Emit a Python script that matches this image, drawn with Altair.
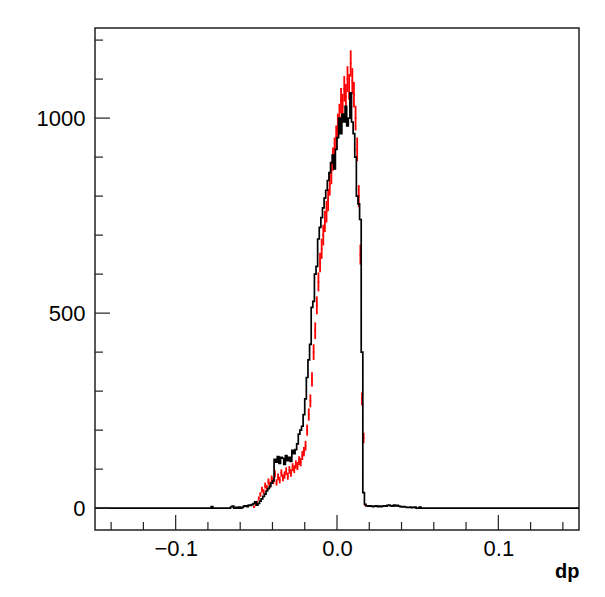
import altair as alt
import pandas as pd
import numpy as np

# ---- data ----
X_MIN, X_MAX = -0.15, 0.15
Y_MIN, Y_MAX = -56, 1231
BIN_W = 0.001

# black histogram: counts for bins starting at -0.080 (step 0.001)
BLACK_START = -0.080
black_counts = [
    0, 0, 4, 0, 0, 0, 0, 0, 0, 0,
    0, 0, 0, 0, 3, 5, 0, 2, 0, 3,
    0, 2, 5, 6, 4, 8, 7, 9, 12, 16,
    8, 12, 18, 24, 30, 36, 44, 50, 56, 64,
    70, 125, 118, 132, 115, 130, 128, 112, 135, 122,
    130, 120, 148, 140, 150, 165, 190, 200, 210, 240,
    280, 335, 380, 420, 515, 530, 600, 620, 690, 720,
    745, 770, 795, 815, 840, 860, 885, 905, 870, 920,
    950, 1000, 960, 1010, 990, 1030, 980, 1000, 1065, 990,
    960, 900, 800, 780, 740, 400, 40, 10, 6, 5,
    6, 5, 4, 5, 6, 4, 5, 4, 5, 6,
    5, 7, 8, 6, 5, 8, 6, 7, 5, 4,
    3, 4, 3, 2, 2, 3, 1, 2, 3, 0,
    0, 3, 0, 0, 0, 0, 0, 0, 0, 0,
]

# red histogram (drawn with error bars): counts for bins starting at -0.052
RED_START = -0.052
red_counts = [
    3, 8, 15, 25, 35, 48, 42, 58, 52, 68,
    60, 75, 70, 88, 66, 80, 72, 90, 78, 85,
    95, 82, 98, 90, 105, 100, 112, 108, 122, 118,
    135, 145, 160, 200, 240, 275, 330, 400, 455, 520,
    580, 630, 665, 700, 735, 760, 790, 830, 860, 895,
    920, 950, 980, 1005, 1045, 1030, 1075, 1055, 1100, 1080,
    1140, 1095, 1060, 1000, 920, 800, 650, 280, 180, 8,
]

y_major = [0, 500, 1000]
y_minor = [100, 200, 300, 400, 600, 700, 800, 900, 1100, 1200]
x_major = [-0.1, 0.0, 0.1]
x_minor = [-0.14, -0.12, -0.08, -0.06, -0.04, -0.02,
           0.02, 0.04, 0.06, 0.08, 0.12, 0.14]

# ---- tables ----
W, H = 484, 502
FONT = "Liberation Sans"

edges = [round(BLACK_START + i * BIN_W, 4) for i in range(len(black_counts))]
black_df = pd.DataFrame({
    "x": [X_MIN] + edges + [round(edges[-1] + BIN_W, 4), X_MAX],
    "y": [0] + black_counts + [0, 0],
})

red_rows = []
for i, c in enumerate(red_counts):
    if c <= 0:
        continue
    x0 = round(RED_START + i * BIN_W, 4)
    e = float(np.sqrt(c))
    red_rows.append({"x0": x0, "x1": x0 + BIN_W, "xc": x0 + BIN_W / 2,
                     "y": c, "ylo": c - e, "yhi": c + e})
red_df = pd.DataFrame(red_rows)

xs = alt.Scale(domain=[X_MIN, X_MAX], nice=False, zero=False)
ys = alt.Scale(domain=[Y_MIN, Y_MAX], nice=False, zero=False)

x_axis = alt.Axis(
    values=x_major, format=".1f", title="dp", ticks=False, domain=False,
    grid=False, labelFontSize=22, labelPadding=8, labelFont=FONT,
    labelColor="black", titleFont=FONT, titleFontSize=20,
    titleFontWeight="bold", titleColor="black", titleAnchor="end",
    titleAlign="right", titleX=W, titleY=47, titleBaseline="alphabetic")
y_axis = alt.Axis(
    values=y_major, format="d", title=None, ticks=False, domain=False,
    grid=False, labelFontSize=22, labelPadding=10, labelFont=FONT,
    labelColor="black")


def X(field):
    return alt.X(field, scale=xs, axis=x_axis)


def Y(field):
    return alt.Y(field, scale=ys, axis=y_axis)


black = alt.Chart(black_df).mark_line(
    interpolate="step-after", color="black", strokeWidth=1.7, clip=True
).encode(x=X("x:Q"), y=Y("y:Q"))

red_v = alt.Chart(red_df).mark_rule(color="#ff0000", strokeWidth=1.8).encode(
    x=X("xc:Q"), y=Y("ylo:Q"), y2="yhi:Q")
red_h = alt.Chart(red_df).mark_rule(color="#ff0000", strokeWidth=1.8).encode(
    x=X("x0:Q"), x2="x1:Q", y=Y("y:Q"))


def yticks(vals, length):
    return alt.Chart(pd.DataFrame({"v": vals})).mark_rule(
        color="#222", strokeWidth=1.2).encode(
        y=Y("v:Q"), x=alt.value(0), x2=alt.value(length))


def xticks(vals, length):
    return alt.Chart(pd.DataFrame({"v": vals})).mark_rule(
        color="#222", strokeWidth=1.2).encode(
        x=X("v:Q"), y=alt.value(H), y2=alt.value(H - length))


chart = alt.layer(
    red_v, red_h, black,
    yticks(y_major, 15), yticks(y_minor, 8),
    xticks(x_major, 15), xticks(x_minor, 8),
).properties(
    width=W, height=H,
    padding={"left": 87, "top": 20, "right": 18, "bottom": 59},
    autosize=alt.AutoSizeParams(type="none"),
    background="white",
).configure_view(stroke="#222", strokeWidth=1.5)

chart.save("out.html", embed_options={"renderer": "svg", "actions": False})
